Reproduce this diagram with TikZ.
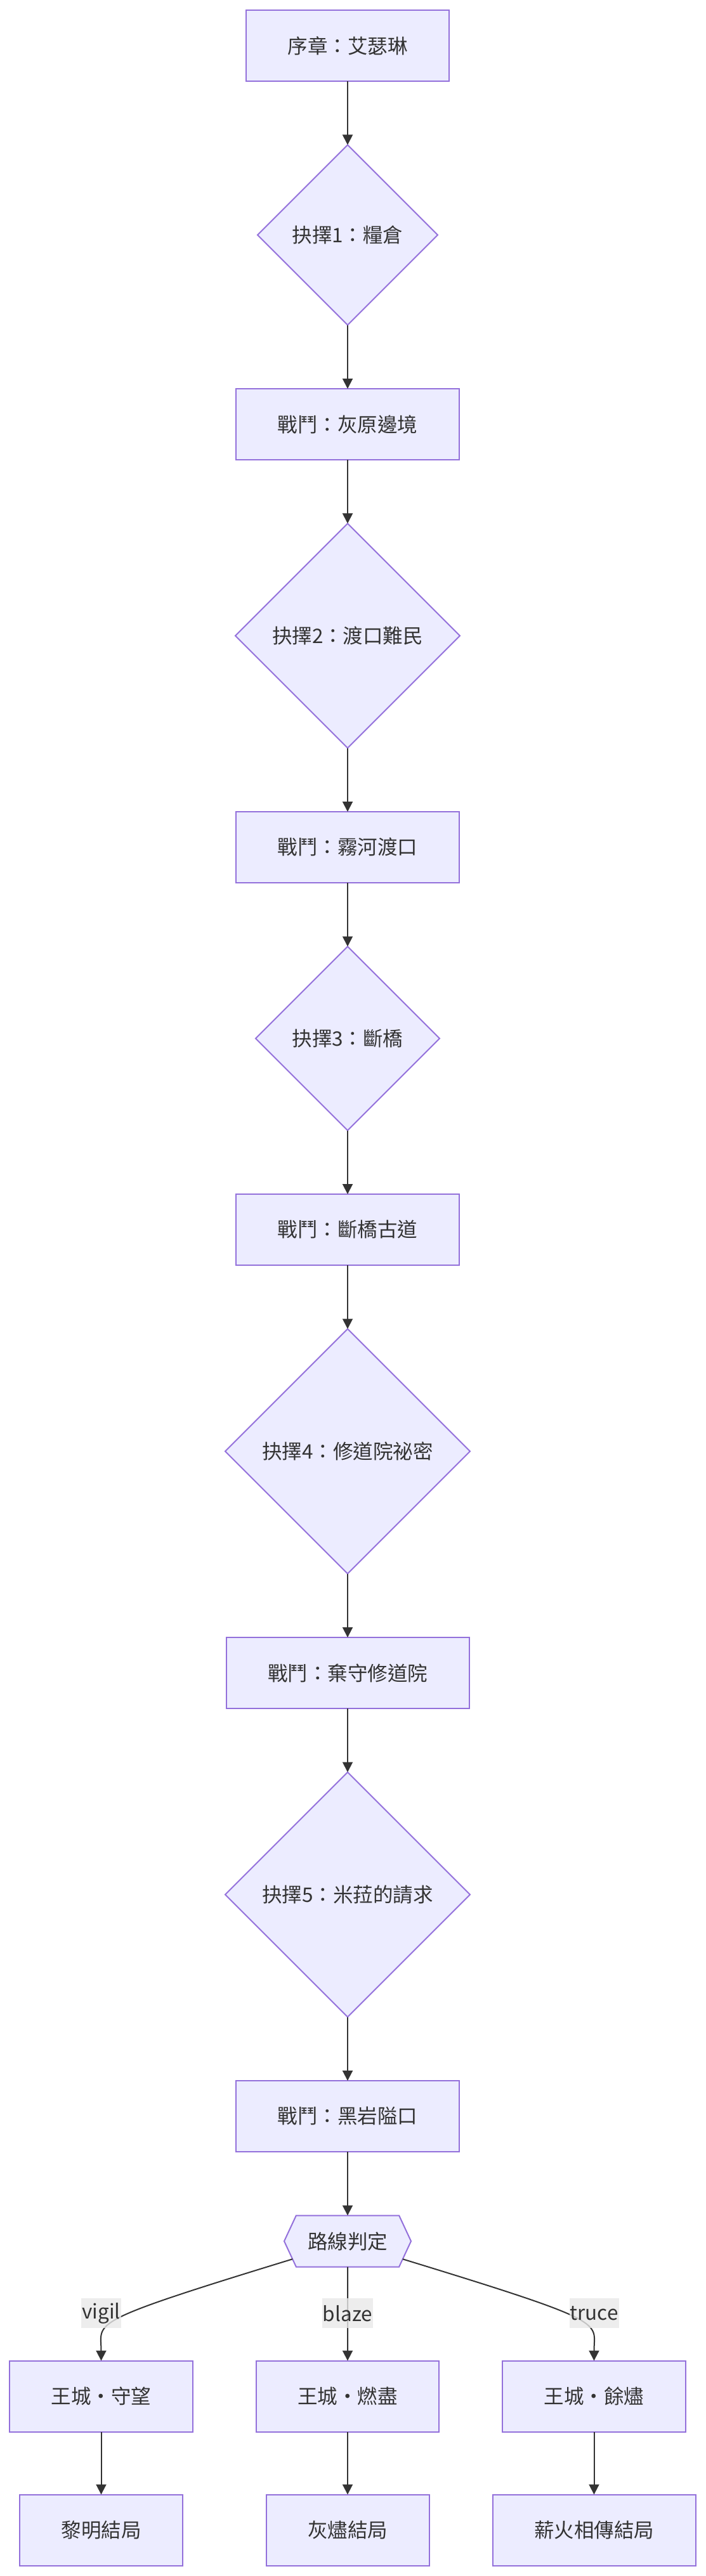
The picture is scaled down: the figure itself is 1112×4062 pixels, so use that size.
\documentclass[tikz,border=0pt]{standalone}
\usepackage{fontspec}
\newfontfamily\cjk{Noto Sans CJK TC}
\usetikzlibrary{positioning,shapes.geometric,shapes.symbols,arrows.meta}

\definecolor{boxfill}{HTML}{ECECFF}
\definecolor{boxline}{HTML}{9370DB}
\definecolor{ink}{HTML}{333333}
\definecolor{tagfill}{HTML}{E8E8E8}

\tikzset{
  base/.style={draw=boxline, fill=boxfill, line width=2pt, text=ink, outer sep=0pt,
    font=\cjk\fontsize{31.5}{38}\selectfont},
  scene/.style={base, rectangle, minimum height=112pt, inner xsep=65.5pt},
  choice/.style={base, diamond, aspect=1, inner sep=0pt},
  route/.style={base, signal, signal to=east and west, signal pointer angle=130,
    minimum width=200pt, minimum height=81pt, inner sep=0pt},
  flow/.style={draw=ink, line width=2pt, -{Triangle[length=16pt,width=16pt]}},
  tag/.style={fill=tagfill, fill opacity=0.8, text opacity=1, text=ink,
    inner xsep=1pt, inner ysep=0pt, minimum height=47pt,
    font=\cjk\fontsize{31.5}{38}\selectfont}
}

\begin{document}
\begin{tikzpicture}[x=1pt, y=-1pt, node distance=100.5pt]
  \useasboundingbox (0,0) rectangle (1112,4062);

  % Define nodes
  \node[scene] (prologue) at (548,72) {序章：艾瑟琳};
  \node[choice, minimum size=284pt, below=of prologue] (c1) {抉擇1：糧倉};
  \node[scene, below=of c1] (b1) {戰鬥：灰原邊境};
  \node[choice, minimum size=354pt, below=of b1] (c2) {抉擇2：渡口難民};
  \node[scene, below=of c2] (b2) {戰鬥：霧河渡口};
  \node[choice, minimum size=290pt, below=of b2] (c3) {抉擇3：斷橋};
  \node[scene, below=of c3] (b3) {戰鬥：斷橋古道};
  \node[choice, minimum size=386pt, below=of b3] (c4) {抉擇4：修道院祕密};
  \node[scene, below=of c4] (b4) {戰鬥：棄守修道院};
  \node[choice, minimum size=386pt, below=of b4] (c5) {抉擇5：米菈的請求};
  \node[scene, below=of c5] (b5) {戰鬥：黑岩隘口};
  \node[route, below=of b5] (judge) {路線判定};

  \node[scene, below=148pt of judge] (burn) {王城・燃盡};
  \node[scene, left=100pt of burn] (keep) {王城・守望};
  \node[scene, right=100pt of burn] (ember) {王城・餘燼};
  \node[scene, below=99pt of keep] (dawn) {黎明結局};
  \node[scene, below=99pt of burn] (ash) {灰燼結局};
  \node[scene, below=99pt of ember] (torch) {薪火相傳結局};

  % Connect the nodes
  \foreach \a/\b in {prologue/c1, c1/b1, b1/c2, c2/b2, b2/c3, c3/b3, b3/c4,
                     c4/b4, b4/c5, c5/b5, b5/judge, judge/burn,
                     keep/dawn, burn/ash, ember/torch}
    \draw[flow] (\a) -- (\b);
  \draw[flow] (judge.198) .. controls +(-330,101) and +(0,-62) .. (keep.north);
  \draw[flow] (judge.-18) .. controls +(330,101) and +(0,-62) .. (ember.north);

  % Edge labels
  \node[tag, above=51pt of keep] (vigil) {vigil};
  \node[tag, above=51pt of burn] (blaze) {blaze};
  \node[tag, above=51pt of ember] (truce) {truce};

\end{tikzpicture}
\end{document}
